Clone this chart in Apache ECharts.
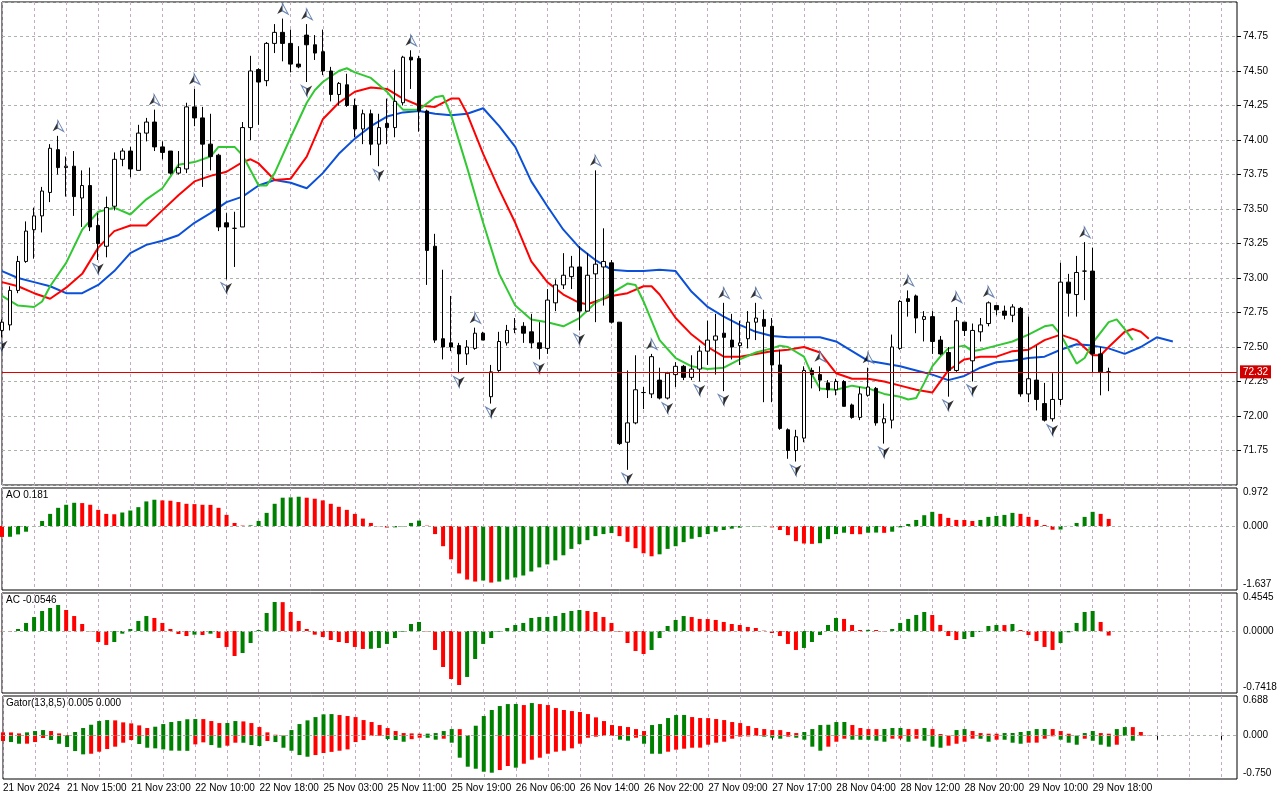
<!DOCTYPE html>
<html lang="en">
<head>
<meta charset="UTF-8">
<title>H1 Alligator / AO / AC / Gator</title>
<script src="https://cdn.jsdelivr.net/npm/echarts@6.0.0/dist/echarts.min.js"></script>
<style>
    html,body{margin:0;padding:0;background:#fff;}
    #chart{width:1280px;height:800px;}
</style>
</head>
<body>
<div id="chart"></div>
<script>
    // time axis labels, one every 8 bars
    var timeLabels = ['21 Nov 2024','21 Nov 15:00','21 Nov 23:00','22 Nov 10:00','22 Nov 18:00','25 Nov 03:00',
        '25 Nov 11:00','25 Nov 19:00','26 Nov 06:00','26 Nov 14:00','26 Nov 22:00','27 Nov 09:00',
        '27 Nov 17:00','28 Nov 04:00','28 Nov 12:00','28 Nov 20:00','29 Nov 10:00','29 Nov 18:00'];
    var BARS_PER_LABEL = 8;
    var SLOTS = 155;

    var opens = [72.62,72.66,72.91,73.12,73.35,73.45,73.62,73.93,73.80,73.81,
        73.58,73.67,73.38,73.23,73.52,73.86,73.92,73.78,74.05,74.13,
        73.95,73.92,73.76,73.79,74.24,74.16,73.97,73.89,73.40,73.36,
        73.37,74.09,74.51,74.43,74.70,74.78,74.70,74.55,74.76,74.69,
        74.64,74.50,74.33,74.40,74.25,74.08,74.19,73.97,74.12,74.09,
        74.27,74.60,74.59,74.21,73.23,72.56,72.53,72.51,72.45,72.49,
        72.60,72.14,72.33,72.53,72.63,72.65,72.61,72.53,72.49,72.82,
        72.95,73.01,73.08,72.76,73.03,73.08,73.11,72.68,71.81,71.95,
        72.17,72.16,72.26,72.13,72.30,72.36,72.28,72.34,72.47,72.55,
        72.60,72.55,72.51,72.56,72.68,72.70,72.65,72.37,71.90,71.75,
        71.84,72.33,72.30,72.24,72.19,72.25,72.08,71.99,72.15,72.20,
        71.95,71.97,72.49,72.85,72.87,72.70,72.72,72.55,72.46,72.33,
        72.68,72.40,72.61,72.67,72.80,72.76,72.73,72.78,72.16,72.26,
        72.09,71.98,72.12,72.97,72.88,73.05,73.05,72.45,72.32];
    var highs = [72.70,72.94,73.16,73.41,73.51,73.66,73.97,74.03,73.88,73.92,
        73.78,73.80,73.47,73.59,73.91,73.94,73.95,74.11,74.16,74.22,
        73.99,73.92,73.92,74.27,74.37,74.24,74.19,73.90,73.47,73.48,
        74.13,74.61,74.52,74.71,74.84,74.88,74.80,74.68,74.84,74.76,
        74.80,74.53,74.42,74.48,74.30,74.22,74.22,74.19,74.30,74.51,
        74.61,74.65,74.61,74.22,73.32,73.06,72.87,72.53,72.55,72.64,
        72.61,72.37,72.61,72.66,72.71,72.68,72.74,72.68,72.92,72.99,
        73.18,73.16,73.23,73.18,73.78,73.36,73.13,72.68,72.33,72.44,
        72.21,72.45,72.35,72.32,72.39,72.37,72.44,72.51,72.69,72.74,
        72.82,72.74,72.69,72.76,72.82,72.77,72.71,72.48,71.91,71.90,
        72.36,72.35,72.36,72.26,72.27,72.26,72.09,72.21,72.35,72.21,
        72.09,72.59,72.84,72.91,72.88,72.76,72.76,72.58,72.50,72.79,
        72.68,72.67,72.71,72.83,72.80,72.80,72.81,72.79,72.72,72.51,
        72.24,72.31,73.11,73.03,73.16,73.26,73.22,72.50,72.35];
    var lows = [72.57,72.62,72.89,73.11,73.14,73.33,73.55,73.75,73.59,73.45,
        73.37,73.34,73.13,73.15,73.49,73.81,73.73,73.78,73.99,73.92,
        73.86,73.75,73.75,73.76,74.10,73.66,73.78,73.34,72.99,73.08,
        73.37,74.00,74.11,74.39,74.63,74.57,74.49,74.52,74.42,74.58,
        74.47,74.28,74.25,74.24,74.02,73.97,73.89,73.81,73.97,74.02,
        74.25,74.37,74.06,72.95,72.53,72.41,72.47,72.31,72.37,72.48,
        72.55,72.09,72.32,72.51,72.60,72.53,72.49,72.41,72.45,72.76,
        72.92,72.92,72.62,72.76,72.68,72.80,72.67,71.79,71.61,71.94,
        72.05,72.13,72.12,72.12,72.21,72.26,72.26,72.25,72.37,72.30,
        72.18,72.41,72.37,72.49,72.55,72.10,72.10,71.90,71.69,71.67,
        71.81,72.20,72.18,72.13,72.15,72.07,71.98,71.97,72.14,71.93,
        71.80,71.91,72.48,72.72,72.60,72.54,72.45,72.44,72.14,72.32,
        72.58,72.25,72.54,72.65,72.73,72.70,72.68,72.14,72.10,72.04,
        71.96,71.96,72.08,72.72,72.72,72.84,72.31,72.15,72.18];
    var closes = [72.68,72.91,73.12,73.34,73.45,73.63,73.94,73.80,73.81,73.59,
        73.67,73.37,73.25,73.51,73.86,73.92,73.79,74.05,74.13,73.95,
        73.91,73.76,73.80,74.24,74.16,73.97,73.88,73.37,73.37,73.36,
        74.09,74.50,74.42,74.70,74.78,74.70,74.55,74.53,74.69,74.63,
        74.50,74.33,74.41,74.25,74.08,74.19,73.97,74.09,74.09,74.28,
        74.60,74.58,74.21,73.20,72.55,72.50,72.50,72.45,72.50,72.60,
        72.55,72.32,72.54,72.62,72.63,72.60,72.53,72.49,72.84,72.95,
        73.02,73.08,72.76,73.02,73.10,73.12,72.68,71.80,71.95,72.19,
        72.17,72.43,72.13,72.31,72.36,72.28,72.34,72.47,72.55,72.58,
        72.57,72.50,72.53,72.68,72.71,72.65,72.37,71.91,71.75,71.85,
        72.33,72.30,72.26,72.19,72.25,72.07,71.99,72.16,72.21,71.95,
        71.98,72.50,72.83,72.83,72.71,72.72,72.54,72.45,72.33,72.69,
        72.62,72.62,72.66,72.82,72.77,72.73,72.79,72.16,72.27,72.12,
        71.97,72.12,72.97,72.89,73.04,73.05,72.45,72.32,72.32];
    var lastPrice = 72.32;

    // bar indices carrying a fractal
    var fractalUp = [7,19,24,35,38,51,59,74,81,90,94,102,108,113,119,123,135];
    var fractalDown = [0,12,28,38,47,57,61,67,72,78,83,87,90,99,110,118,121,131];

    // Alligator lines, [bar, price] (shifted lines run past the last bar)
    var jaw = [[0,73.05],[2,73.00],[4,72.97],[6,72.94],[8,72.89],[10,72.89],[12,72.95],[14,73.05],[16,73.18],[18,73.24],
        [20,73.27],[22,73.31],[24,73.40],[26,73.47],[28,73.55],[30,73.59],[32,73.67],[34,73.71],[36,73.69],[38,73.65],
        [40,73.76],[42,73.90],[44,74.01],[46,74.10],[48,74.17],[50,74.20],[52,74.21],[54,74.19],[56,74.18],[58,74.19],
        [60,74.23],[62,74.10],[64,73.95],[66,73.70],[68,73.52],[70,73.35],[72,73.22],[74,73.13],[76,73.06],[78,73.05],
        [80,73.05],[82,73.06],[84,73.05],[86,72.90],[88,72.79],[90,72.72],[92,72.66],[94,72.61],[96,72.58],[98,72.57],
        [100,72.57],[102,72.57],[104,72.54],[106,72.47],[108,72.40],[110,72.38],[112,72.36],[114,72.33],[116,72.30],[118,72.26],
        [120,72.29],[122,72.35],[124,72.39],[126,72.40],[128,72.42],[130,72.43],[132,72.48],[134,72.52],[136,72.51],[138,72.49],
        [140,72.45],[142,72.50],[144,72.57],[146,72.54]];
    var teeth = [[0,72.97],[2,72.94],[4,72.89],[6,72.85],[8,72.93],[10,73.03],[12,73.22],[14,73.34],[16,73.38],[18,73.38],
        [20,73.49],[22,73.60],[24,73.70],[26,73.74],[28,73.77],[30,73.84],[31,73.86],[32,73.83],[34,73.71],[36,73.72],
        [38,73.88],[40,74.15],[42,74.27],[44,74.35],[46,74.38],[48,74.37],[50,74.30],[52,74.25],[54,74.24],[56,74.30],
        [57,74.30],[58,74.19],[60,73.90],[62,73.64],[64,73.40],[66,73.12],[68,72.97],[70,72.88],[72,72.82],[73,72.81],
        [74,72.83],[76,72.87],[78,72.89],[80,72.94],[81,72.94],[82,72.88],[84,72.71],[86,72.59],[88,72.50],[90,72.43],
        [92,72.43],[94,72.45],[96,72.47],[98,72.48],[100,72.50],[102,72.46],[104,72.31],[106,72.27],[108,72.27],[110,72.25],
        [112,72.22],[114,72.19],[116,72.17],[118,72.33],[120,72.41],[122,72.43],[124,72.43],[126,72.47],[128,72.48],[130,72.55],
        [132,72.59],[134,72.55],[136,72.44],[137,72.44],[138,72.50],[140,72.61],[141,72.63],[142,72.61],[143,72.56]];
    var lips = [[0,72.87],[2,72.80],[4,72.79],[5,72.83],[6,72.94],[8,73.11],[10,73.35],[12,73.48],[14,73.51],[16,73.46],
        [18,73.57],[20,73.65],[22,73.82],[24,73.84],[26,73.88],[27,73.95],[29,73.95],[30,73.89],[32,73.67],[33,73.67],
        [34,73.76],[36,74.02],[38,74.27],[39,74.36],[40,74.42],[42,74.50],[43,74.52],[44,74.49],[46,74.45],[48,74.35],
        [49,74.28],[50,74.22],[52,74.22],[54,74.31],[55,74.32],[56,74.18],[58,73.80],[60,73.40],[62,73.03],[64,72.80],
        [66,72.70],[68,72.68],[70,72.65],[72,72.71],[74,72.82],[76,72.89],[78,72.96],[79,72.95],[80,72.83],[82,72.55],
        [84,72.42],[86,72.36],[88,72.34],[90,72.35],[92,72.41],[94,72.46],[96,72.49],[97,72.51],[98,72.50],[100,72.43],
        [101,72.30],[102,72.20],[104,72.19],[106,72.22],[108,72.20],[110,72.16],[112,72.14],[113,72.12],[114,72.13],[115,72.24],
        [116,72.36],[117,72.43],[118,72.49],[120,72.51],[121,72.47],[122,72.48],[124,72.51],[126,72.54],[128,72.59],[130,72.65],
        [131,72.66],[132,72.59],[134,72.38],[135,72.42],[136,72.53],[138,72.68],[139,72.70],[140,72.63],[141,72.55]];

    var aoValues = [-0.28,-0.276,-0.215,-0.146,-0.01,0.129,0.31,0.465,0.543,0.594,
        0.586,0.543,0.413,0.31,0.30,0.345,0.396,0.482,0.629,0.672,
        0.655,0.646,0.612,0.568,0.56,0.543,0.54,0.465,0.284,0.078,
        0.01,0.017,0.129,0.336,0.568,0.724,0.732,0.749,0.724,0.698,
        0.655,0.568,0.491,0.413,0.31,0.19,0.078,-0.005,-0.04,-0.035,
        -0.01,0.078,0.138,0.009,-0.207,-0.517,-0.853,-1.214,-1.37,-1.421,
        -1.395,-1.447,-1.421,-1.37,-1.318,-1.266,-1.163,-1.059,-0.982,-0.879,
        -0.749,-0.586,-0.465,-0.362,-0.258,-0.207,-0.181,-0.258,-0.405,-0.568,
        -0.698,-0.775,-0.724,-0.586,-0.517,-0.413,-0.327,-0.284,-0.207,-0.146,
        -0.103,-0.069,-0.043,-0.017,-0.009,0.002,-0.035,-0.103,-0.233,-0.388,
        -0.448,-0.457,-0.44,-0.336,-0.207,-0.172,-0.207,-0.21,-0.172,-0.168,
        -0.175,-0.146,-0.035,0.052,0.155,0.276,0.362,0.31,0.207,0.155,
        0.153,0.129,0.155,0.233,0.258,0.284,0.336,0.31,0.233,0.155,
        0.026,-0.095,-0.09,0.002,0.078,0.233,0.362,0.31,0.181];
    var aoMax = 0.972, aoMin = -1.637;

    var acValues = [-0.003,-0.006,0.024,0.096,0.167,0.239,0.275,0.311,0.251,0.179,
        0.084,-0.003,-0.132,-0.167,-0.132,-0.032,0.024,0.12,0.179,0.156,
        0.096,0.024,-0.036,-0.06,-0.044,-0.048,-0.032,-0.084,-0.191,-0.299,
        -0.263,-0.144,0.012,0.215,0.347,0.345,0.227,0.12,0.024,-0.044,
        -0.072,-0.108,-0.132,-0.144,-0.191,-0.215,-0.213,-0.203,-0.155,-0.084,
        -0.008,0.084,0.108,-0.004,-0.227,-0.431,-0.574,-0.646,-0.55,-0.335,
        -0.155,-0.084,-0.008,0.036,0.072,0.096,0.156,0.167,0.168,0.179,
        0.215,0.239,0.251,0.239,0.227,0.167,0.096,-0.008,-0.144,-0.239,
        -0.275,-0.227,-0.084,0.06,0.132,0.179,0.167,0.144,0.143,0.132,
        0.108,0.084,0.072,0.048,0.036,0.004,-0.024,-0.06,-0.155,-0.227,
        -0.203,-0.132,-0.048,0.072,0.156,0.144,0.072,0.012,0.014,0.012,
        -0.004,0.024,0.096,0.144,0.191,0.227,0.191,0.072,-0.06,-0.108,
        -0.096,-0.072,-0.012,0.06,0.072,0.071,0.084,0.012,-0.048,-0.12,
        -0.191,-0.227,-0.144,-0.016,0.096,0.227,0.239,0.108,-0.0546];
    var acMax = 0.4545, acMin = -0.7418;

    var gatorUp = [0.058,0.057,0.04,0.058,0.081,0.098,0.081,0.04,0.012,0.064,
        0.133,0.19,0.254,0.271,0.266,0.231,0.214,0.179,0.133,0.156,
        0.202,0.237,0.254,0.285,0.289,0.288,0.254,0.219,0.22,0.254,
        0.248,0.219,0.15,0.058,0.017,0.005,0.098,0.202,0.266,0.323,
        0.37,0.375,0.358,0.341,0.323,0.271,0.237,0.185,0.133,0.081,
        0.046,0.04,0.035,0.036,0.046,0.081,0.115,0.114,0.01,0.173,
        0.341,0.445,0.514,0.548,0.55,0.531,0.566,0.548,0.531,0.479,
        0.445,0.427,0.41,0.375,0.318,0.254,0.185,0.167,0.15,0.115,
        0.081,0.185,0.202,0.306,0.358,0.36,0.323,0.306,0.305,0.289,
        0.271,0.237,0.219,0.167,0.133,0.115,0.098,0.097,0.064,0.046,
        0.064,0.115,0.185,0.19,0.237,0.238,0.185,0.133,0.115,0.114,
        0.116,0.133,0.134,0.115,0.114,0.133,0.115,0.029,0.003,0.098,
        0.115,0.081,0.046,0.035,0.034,0.046,0.047,0.064,0.081,0.115,
        0.116,0.115,0.081,0.035,0.003,0.046,0.081,0.046,0.035,0.115,
        0.15,0.149,0.064,0.005];
    var gatorDown = [-0.092,-0.11,-0.139,-0.138,-0.11,-0.04,-0.075,-0.139,-0.196,-0.266,
        -0.323,-0.312,-0.277,-0.231,-0.19,-0.121,-0.075,-0.144,-0.208,-0.219,
        -0.237,-0.258,-0.26,-0.262,-0.15,-0.115,-0.162,-0.208,-0.173,-0.121,
        -0.122,-0.162,-0.179,-0.092,-0.11,-0.208,-0.26,-0.335,-0.364,-0.335,
        -0.3,-0.28,-0.26,-0.237,-0.11,-0.075,0,0,-0.058,-0.075,
        -0.104,-0.06,-0.035,-0.036,-0.069,-0.052,-0.121,-0.381,-0.537,-0.572,
        -0.624,-0.641,-0.595,-0.525,-0.554,-0.485,-0.416,-0.381,-0.312,-0.277,
        -0.26,-0.219,-0.139,-0.035,-0.017,-0.005,0,-0.069,-0.087,-0.035,
        -0.139,-0.312,-0.313,-0.277,-0.242,-0.225,-0.208,-0.207,-0.156,-0.121,
        -0.104,-0.052,-0.017,-0.012,0,-0.017,-0.035,-0.052,-0.017,-0.035,
        -0.069,-0.19,-0.26,-0.19,-0.104,-0.052,-0.069,-0.07,-0.071,-0.087,
        -0.104,-0.052,-0.051,-0.104,-0.052,-0.087,-0.19,-0.208,-0.173,-0.139,
        -0.104,-0.052,-0.053,-0.104,-0.069,-0.07,-0.121,-0.139,-0.121,-0.12,
        -0.052,-0.01,-0.069,-0.121,-0.156,-0.052,-0.087,-0.156,-0.19,-0.156,
        0,-0.087,0,0];
    var gatorMax = 0.688, gatorMin = -0.750;

    var FONT = 'Liberation Sans';
    var GREEN = '#008000', RED = '#ff0000';
    var VGRID = '#c4aac4', HGRID = '#aab4aa';

    var cats = [];
    for (var i = 0; i < SLOTS; i++) cats.push(String(i));

    var candles = opens.map(function (o, i) { return [o, closes[i], lows[i], highs[i]]; });

    // green when the bar grows against the previous one, red otherwise
    function trendColor(arr, useAbs) {
        return function (p) {
            var i = p.dataIndex;
            if (i === 0) return RED;
            var a = arr[i], b = arr[i - 1];
            if (useAbs) { a = Math.abs(a); b = Math.abs(b); }
            return a > b ? GREEN : RED;
        };
    }

    var panes = [
        {top: 2, height: 483},
        {top: 488, height: 102},
        {top: 593, height: 100},
        {top: 696, height: 83}
    ];

    function xAxisFor(g, showLabels) {
        return {
            type: 'category', gridIndex: g, data: cats, boundaryGap: false,
            axisLine: {show: false},
            axisTick: {show: showLabels, interval: BARS_PER_LABEL - 1, length: 4, lineStyle: {color: '#000'}},
            axisLabel: {
                show: showLabels, interval: BARS_PER_LABEL - 1, align: 'left', margin: 4,
                color: '#000', fontSize: 10, fontFamily: FONT,
                formatter: function (v) { return timeLabels[Number(v) / BARS_PER_LABEL] || ''; }
            },
            splitLine: {show: true, interval: 3, lineStyle: {color: VGRID, type: [3, 3], width: 1}}
        };
    }

    function subAxis(g, min, max, digits) {
        var h = panes[g].height, span = max - min;
        return {
            type: 'value', gridIndex: g, position: 'right', min: min, max: max,
            axisLine: {show: false}, axisTick: {show: false}, splitLine: {show: false},
            axisLabel: {
                color: '#000', fontSize: 10, fontFamily: FONT, margin: 6,
                customValues: [min + span * 5.7 / h, 0, max - span * 4.5 / h],
                formatter: function (v) {
                    if (v > 0) return max.toFixed(digits);
                    if (v < 0) return min.toFixed(digits);
                    return (0).toFixed(digits);
                }
            }
        };
    }

    var zeroLine = {
        silent: true, symbol: ['none', 'none'], animation: false,
        label: {show: false}, emphasis: {disabled: true},
        lineStyle: {color: HGRID, type: [3, 3], width: 1},
        data: [{yAxis: 0}]
    };

    function alligator(name, data, color) {
        return {
            name: name, type: 'line', xAxisIndex: 0, yAxisIndex: 0, data: data,
            symbol: 'none', smooth: false, z: 2, silent: true,
            lineStyle: {color: color, width: 2}
        };
    }

    function histogram(g, data, colorFn) {
        return {
            type: 'bar', xAxisIndex: g, yAxisIndex: g, data: data, barWidth: 4, barGap: '-100%',
            itemStyle: {color: colorFn}, silent: true
        };
    }

    // fractal arrow, drawn as a solid half and an outlined half
    function fractalHalf(points, path, dx, dy, solid) {
        return {
            type: 'scatter', xAxisIndex: 0, yAxisIndex: 0, z: 4, silent: true,
            data: points, symbol: path, symbolSize: [6, 11], symbolOffset: [dx, dy],
            itemStyle: solid ? {color: '#000'} : {color: '#fff', borderColor: '#46679e', borderWidth: 1}
        };
    }
    var upPoints = fractalUp.map(function (i) { return [i, highs[i]]; });
    var downPoints = fractalDown.map(function (i) { return [i, lows[i]]; });

    var chart = echarts.init(document.getElementById('chart'));
    var option = {
        animation: false,
        backgroundColor: '#fff',
        title: [
            {text: 'AO ' + aoValues[aoValues.length - 1].toFixed(3), left: 6, top: 490},
            {text: 'AC ' + acValues[acValues.length - 1].toFixed(4), left: 6, top: 595},
            {text: 'Gator(13,8,5) ' + gatorUp[gatorUp.length - 1].toFixed(3) + ' ' +
                Math.abs(gatorDown[gatorDown.length - 1]).toFixed(3), left: 6, top: 698}
        ].map(function (t) {
            t.padding = 0;
            t.textStyle = {fontSize: 10, fontWeight: 'normal', color: '#000', fontFamily: FONT};
            return t;
        }),
        grid: panes.map(function (p) {
            return {left: 2, width: 1235, top: p.top, height: p.height, show: true,
                backgroundColor: '#fff', borderColor: '#000', borderWidth: 1};
        }),
        xAxis: [xAxisFor(0, false), xAxisFor(1, false), xAxisFor(2, false), xAxisFor(3, true)],
        yAxis: [
            {
                type: 'value', gridIndex: 0, position: 'right', min: 71.5, max: 75, interval: 0.25,
                axisLine: {show: false},
                axisTick: {show: true, length: 4, lineStyle: {color: '#000'}},
                axisLabel: {color: '#000', fontSize: 10, fontFamily: FONT, margin: 6,
                    showMinLabel: false, showMaxLabel: false,
                    formatter: function (v) { return v.toFixed(2); }},
                splitLine: {show: true, lineStyle: {color: HGRID, type: [3, 3], width: 1}}
            },
            subAxis(1, aoMin, aoMax, 3),
            subAxis(2, acMin, acMax, 4),
            subAxis(3, gatorMin, gatorMax, 3)
        ],
        series: [
            alligator('Jaw', jaw, '#0a50d8'),
            alligator('Teeth', teeth, '#ff0000'),
            alligator('Lips', lips, '#32c832'),
            {
                name: 'Price', type: 'candlestick', xAxisIndex: 0, yAxisIndex: 0, data: candles,
                barWidth: 4, z: 3, silent: true,
                itemStyle: {color: '#fff', color0: '#000', borderColor: '#000', borderColor0: '#000', borderWidth: 1},
                markLine: {
                    silent: true, symbol: ['none', 'none'], animation: false, emphasis: {disabled: true},
                    lineStyle: {color: '#e00000', type: 'solid', width: 1},
                    label: {position: 'end', distance: 3, formatter: lastPrice.toFixed(2), color: '#fff',
                        backgroundColor: '#d00000', padding: [2, 3, 1, 3], fontSize: 10, fontFamily: FONT},
                    data: [{yAxis: lastPrice}]
                }
            },
            fractalHalf(upPoints, 'path://M5,0 L5,7 L0,10 Z', -2.5, -10, true),
            fractalHalf(upPoints, 'path://M0,0 L5,10 L0,7 Z', 2.5, -10, false),
            fractalHalf(downPoints, 'path://M0,0 L5,3 L5,10 Z', -2.5, 9, false),
            fractalHalf(downPoints, 'path://M5,0 L0,3 L0,10 Z', 2.5, 9, true),
            Object.assign(histogram(1, aoValues, trendColor(aoValues, false)), {markLine: zeroLine}),
            Object.assign(histogram(2, acValues, trendColor(acValues, false)), {markLine: zeroLine}),
            Object.assign(histogram(3, gatorUp, trendColor(gatorUp, true)), {markLine: zeroLine}),
            histogram(3, gatorDown, trendColor(gatorDown, true))
        ]
    };
    chart.setOption(option);
</script>
</body>
</html>
